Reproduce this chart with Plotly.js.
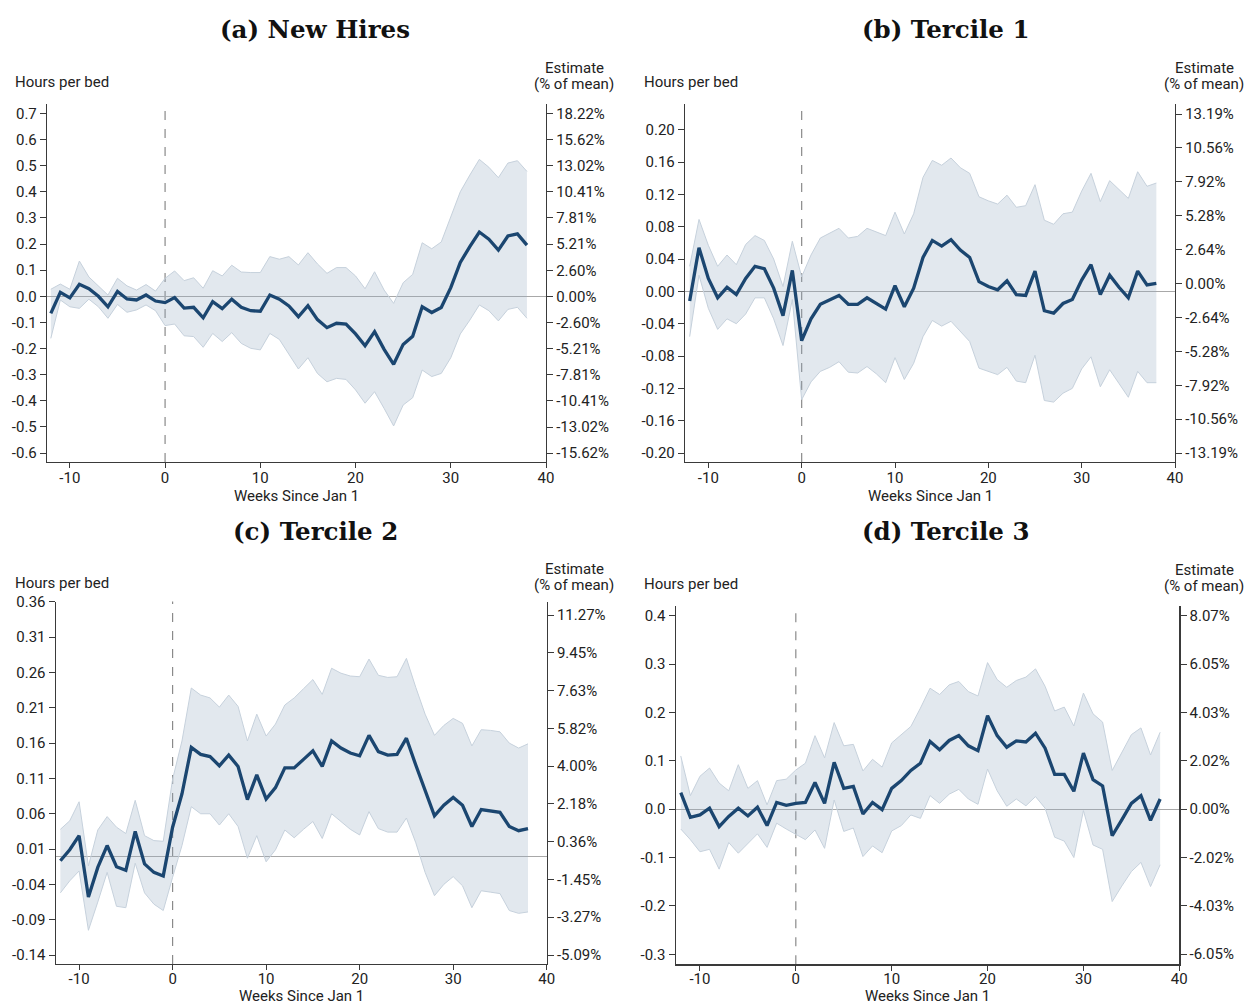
<!DOCTYPE html>
<html>
<head>
<meta charset="utf-8">
<script src="https://cdn.plot.ly/plotly-3.0.1.min.js"></script>
<style>html,body{margin:0;padding:0;background:#fff;}#chart{width:1247px;height:1005px;}</style>
</head>
<body>
<div id="chart"></div>
<script>
// ---------------- DATA ----------------
const weeks = [-12,-11,-10,-9,-8,-7,-6,-5,-4,-3,-2,-1,0,1,2,3,4,5,6,7,8,9,10,11,12,13,14,15,16,17,18,19,20,21,22,23,24,25,26,27,28,29,30,31,32,33,34,35,36,37,38];

const panelTitles = ["(a) New Hires", "(b) Tercile 1", "(c) Tercile 2", "(d) Tercile 3"];
const xTickVals = [-10, 0, 10, 20, 30, 40];
const xTickText = ["-10", "0", "10", "20", "30", "40"];

// (a) New Hires
const newHiresEst = [-0.065,0.015,-0.006,0.046,0.029,0.0,-0.04,0.019,-0.01,-0.014,0.005,-0.018,
  -0.024,-0.005,-0.045,-0.042,-0.082,-0.02,-0.047,-0.011,-0.042,-0.055,-0.057,0.005,-0.011,-0.037,-0.078,-0.036,
  -0.089,-0.12,-0.103,-0.106,-0.144,-0.189,-0.135,-0.203,-0.26,-0.184,-0.153,-0.04,-0.062,-0.043,0.033,0.13,0.19,0.246,0.219,0.177,0.231,0.239,0.196];
const newHiresHi = [0.027,0.047,0.027,0.135,0.074,0.041,0.005,0.069,0.04,0.024,0.045,0.02,
  0.069,0.097,0.06,0.071,0.031,0.098,0.078,0.119,0.093,0.091,0.091,0.152,0.142,0.152,0.12,0.167,
  0.124,0.088,0.11,0.11,0.078,0.029,0.094,0.024,-0.027,0.052,0.084,0.205,0.182,0.208,0.305,0.40,0.464,0.524,0.494,0.454,0.51,0.519,0.478];
const newHiresLo = [-0.161,-0.014,-0.04,-0.046,-0.011,-0.04,-0.084,-0.031,-0.061,-0.052,-0.033,-0.055,
  -0.112,-0.106,-0.151,-0.154,-0.195,-0.142,-0.173,-0.139,-0.18,-0.199,-0.205,-0.142,-0.165,-0.224,-0.278,-0.235,
  -0.295,-0.327,-0.314,-0.318,-0.358,-0.409,-0.365,-0.429,-0.496,-0.416,-0.388,-0.282,-0.307,-0.295,-0.235,-0.144,-0.091,-0.033,-0.055,-0.094,-0.05,-0.042,-0.084];
const newHiresLeftTicks = [-0.6,-0.5,-0.4,-0.3,-0.2,-0.1,0.0,0.1,0.2,0.3,0.4,0.5,0.6,0.7];
const newHiresLeftText = ["-0.6","-0.5","-0.4","-0.3","-0.2","-0.1","0.0","0.1","0.2","0.3","0.4","0.5","0.6","0.7"];
const newHiresRightTicks = [-15.62,-13.02,-10.41,-7.81,-5.21,-2.60,0.00,2.60,5.21,7.81,10.41,13.02,15.62,18.22];
const newHiresRightText = ["-15.62%","-13.02%","-10.41%","-7.81%","-5.21%","-2.60%","0.00%","2.60%","5.21%","7.81%","10.41%","13.02%","15.62%","18.22%"];

// (b) Tercile 1
const tercile1Est = [-0.012,0.054,0.016,-0.008,0.005,-0.004,0.016,0.031,0.028,0.004,-0.03,0.026,
  -0.061,-0.034,-0.016,-0.011,-0.005,-0.016,-0.016,-0.008,-0.015,-0.022,0.007,-0.019,0.004,0.042,
  0.063,0.056,0.064,0.051,0.042,0.012,0.006,0.002,0.013,-0.004,-0.005,0.025,-0.024,-0.027,-0.015,-0.010,0.014,0.033,-0.004,0.02,0.005,-0.008,0.025,0.008,0.01];
const tercile1Hi = [0.031,0.089,0.057,0.031,0.045,0.033,0.058,0.069,0.063,0.040,0.006,0.062,
  0.018,0.045,0.066,0.072,0.078,0.066,0.068,0.078,0.073,0.069,0.098,0.071,0.096,0.141,
  0.162,0.156,0.165,0.153,0.146,0.117,0.112,0.108,0.119,0.104,0.106,0.132,0.088,0.083,0.096,0.098,0.124,0.146,0.111,0.137,0.126,0.115,0.148,0.13,0.134];
const tercile1Lo = [-0.056,0.02,-0.021,-0.047,-0.034,-0.04,-0.028,-0.008,-0.008,-0.034,-0.067,-0.01,
  -0.134,-0.112,-0.099,-0.094,-0.087,-0.1,-0.101,-0.093,-0.102,-0.113,-0.082,-0.109,-0.089,-0.056,
  -0.036,-0.043,-0.037,-0.049,-0.062,-0.095,-0.099,-0.103,-0.094,-0.111,-0.113,-0.079,-0.135,-0.137,-0.126,-0.12,-0.096,-0.081,-0.118,-0.097,-0.114,-0.131,-0.099,-0.113,-0.113];
const tercile1LeftTicks = [-0.20,-0.16,-0.12,-0.08,-0.04,0.00,0.04,0.08,0.12,0.16,0.20];
const tercile1LeftText = ["-0.20","-0.16","-0.12","-0.08","-0.04","0.00","0.04","0.08","0.12","0.16","0.20"];
const tercile1RightTicks = [-13.19,-10.56,-7.92,-5.28,-2.64,0.00,2.64,5.28,7.92,10.56,13.19];
const tercile1RightText = ["-13.19%","-10.56%","-7.92%","-5.28%","-2.64%","0.00%","2.64%","5.28%","7.92%","10.56%","13.19%"];

// (c) Tercile 2
const tercile2Est = [-0.0065,0.009,0.029,-0.058,-0.016,0.015,-0.015,-0.020,0.035,-0.011,-0.023,-0.028,
  0.041,0.088,0.154,0.144,0.141,0.128,0.143,0.127,0.080,0.115,0.081,0.097,0.125,0.125,0.137,
  0.149,0.127,0.163,0.153,0.146,0.142,0.171,0.148,0.143,0.144,0.167,0.129,0.093,0.057,0.072,0.083,0.072,0.042,0.066,0.064,0.062,0.042,0.036,0.039];
const tercile2Hi = [0.038,0.050,0.077,-0.014,0.037,0.056,0.041,0.032,0.079,0.029,0.022,0.021,
  0.109,0.163,0.238,0.228,0.224,0.211,0.228,0.212,0.163,0.201,0.170,0.187,0.214,0.224,0.237,
  0.25,0.229,0.266,0.259,0.255,0.254,0.279,0.256,0.253,0.254,0.28,0.239,0.201,0.171,0.185,0.195,0.188,0.156,0.179,0.178,0.176,0.16,0.153,0.159];
const tercile2Lo = [-0.052,-0.035,-0.021,-0.105,-0.065,-0.023,-0.071,-0.073,-0.01,-0.052,-0.068,-0.077,
  -0.03,0.015,0.07,0.06,0.06,0.044,0.06,0.042,-0.003,0.029,-0.008,0.009,0.037,0.026,0.038,
  0.049,0.025,0.06,0.049,0.038,0.03,0.063,0.039,0.034,0.034,0.054,0.019,-0.023,-0.056,-0.040,-0.029,-0.042,-0.073,-0.049,-0.051,-0.053,-0.077,-0.081,-0.079];
const tercile2LeftTicks = [-0.14,-0.09,-0.04,0.01,0.06,0.11,0.16,0.21,0.26,0.31,0.36];
const tercile2LeftText = ["-0.14","-0.09","-0.04","0.01","0.06","0.11","0.16","0.21","0.26","0.31","0.36"];
const tercile2RightTicks = [-5.09,-3.27,-1.45,0.36,2.18,4.00,5.82,7.63,9.45,11.27];
const tercile2RightText = ["-5.09%","-3.27%","-1.45%","0.36%","2.18%","4.00%","5.82%","7.63%","9.45%","11.27%"];

// (d) Tercile 3
const tercile3Est = [0.034,-0.017,-0.012,0.002,-0.036,-0.015,0.002,-0.014,0.004,-0.034,0.014,0.008,
  0.012,0.014,0.055,0.012,0.097,0.043,0.047,-0.01,0.014,-0.001,0.043,0.059,0.08,0.095,
  0.14,0.123,0.142,0.152,0.131,0.121,0.193,0.152,0.128,0.141,0.139,0.157,0.126,0.072,0.072,0.037,0.116,0.061,0.048,-0.055,-0.022,0.012,0.028,-0.023,0.021];
const tercile3Hi = [0.11,0.028,0.068,0.085,0.054,0.038,0.092,0.043,0.059,0.009,0.059,0.062,
  0.081,0.095,0.152,0.106,0.179,0.131,0.134,0.079,0.103,0.087,0.137,0.154,0.171,0.209,
  0.25,0.237,0.257,0.264,0.243,0.234,0.303,0.268,0.252,0.266,0.273,0.29,0.254,0.203,0.211,0.172,0.24,0.197,0.18,0.08,0.117,0.154,0.168,0.112,0.159];
const tercile3Lo = [-0.041,-0.063,-0.088,-0.083,-0.124,-0.069,-0.091,-0.07,-0.051,-0.079,-0.029,-0.041,
  -0.052,-0.063,-0.043,-0.081,0.019,-0.046,-0.039,-0.098,-0.076,-0.09,-0.045,-0.034,-0.012,-0.019,
  0.028,0.012,0.031,0.041,0.021,0.010,0.083,0.038,0.006,0.021,0.007,0.026,0.002,-0.058,-0.066,-0.1,-0.003,-0.074,-0.083,-0.191,-0.159,-0.129,-0.11,-0.16,-0.115];
const tercile3LeftTicks = [-0.3,-0.2,-0.1,0.0,0.1,0.2,0.3,0.4];
const tercile3LeftText = ["-0.3","-0.2","-0.1","0.0","0.1","0.2","0.3","0.4"];
const tercile3RightTicks = [-6.05,-4.03,-2.02,0.00,2.02,4.03,6.05,8.07];
const tercile3RightText = ["-6.05%","-4.03%","-2.02%","0.00%","2.02%","4.03%","6.05%","8.07%"];

const leftTitle = "Hours per bed";
const rightTitleLine1 = "Estimate";
const rightTitleLine2 = "(% of mean)";
const xTitle = "Weeks Since Jan 1";

// ---------------- LAYOUT / STYLE ----------------
const W = 1247, H = 1005;
const px = v => v / W;
const py = v => 1 - v / H;

const FONT = "Roboto, 'Open Sans', sans-serif";
const LINE_COLOR = "#1b4670";
const BAND_FILL = "rgba(150,172,194,0.28)";
const BAND_EDGE = "#c6d1dc";
const AXIS_COLOR = "#3a3a3a";

// pixel boxes of each plot area: [left, right, top, bottom]
const panels = [
  {est:newHiresEst, hi:newHiresHi, lo:newHiresLo, box:[47,546,104,462], xr:[-12.4,40], yr:[-0.634,0.736], y2r:[-16.50,19.16],
   lt:newHiresLeftTicks, ltt:newHiresLeftText, rt:newHiresRightTicks, rtt:newHiresRightText, titleY:29, axTitleY:82, xTitleOff:34, stand:-3},
  {est:tercile1Est, hi:tercile1Hi, lo:tercile1Lo, box:[685,1175,104,462], xr:[-12.5,40], yr:[-0.2111,0.2318], y2r:[-13.89,13.97],
   lt:tercile1LeftTicks, ltt:tercile1LeftText, rt:tercile1RightTicks, rtt:tercile1RightText, titleY:29, axTitleY:82, xTitleOff:34, stand:-3},
  {est:tercile2Est, hi:tercile2Hi, lo:tercile2Lo, box:[55.7,546.7,601.5,964], xr:[-12.5,40], yr:[-0.1527,0.3605], y2r:[-5.52,11.92],
   lt:tercile2LeftTicks, ltt:tercile2LeftText, rt:tercile2RightTicks, rtt:tercile2RightText, titleY:531, axTitleY:583, xTitleOff:31.5, stand:-4},
  {est:tercile3Est, hi:tercile3Hi, lo:tercile3Lo, box:[675.7,1179.3,606,964.3], xr:[-12.53,40], yr:[-0.3207,0.420], y2r:[-6.47,8.47],
   lt:tercile3LeftTicks, ltt:tercile3LeftText, rt:tercile3RightTicks, rtt:tercile3RightText, titleY:531, axTitleY:584, xTitleOff:31.4, stand:-5}
];

const data = [];
const layout = {
  width: W, height: H,
  margin: {l:0, r:0, t:0, b:0},
  paper_bgcolor: "#fff", plot_bgcolor: "rgba(0,0,0,0)",
  showlegend: false,
  font: {family: FONT, size: 15, color: "#222"},
  annotations: [], shapes: []
};

panels.forEach((p, i) => {
  const n = i + 1;
  const xa = n === 1 ? "x" : "x" + n;
  const ya = n === 1 ? "y" : "y" + n;
  const ya2 = "y" + (n + 4);
  const [L, R, T, B] = p.box;

  data.push({x: weeks, y: p.hi, xaxis: xa, yaxis: ya, type: "scatter", mode: "lines",
             line: {color: BAND_EDGE, width: 1}, hoverinfo: "skip"});
  data.push({x: weeks, y: p.lo, xaxis: xa, yaxis: ya, type: "scatter", mode: "lines",
             line: {color: BAND_EDGE, width: 1}, fill: "tonexty", fillcolor: BAND_FILL, hoverinfo: "skip"});
  data.push({x: weeks, y: p.est, xaxis: xa, yaxis: ya, type: "scatter", mode: "lines",
             line: {color: LINE_COLOR, width: 3.3}});
  // invisible trace so that the right axis is drawn
  data.push({x: weeks, y: p.est, xaxis: xa, yaxis: ya2, type: "scatter", mode: "lines",
             line: {width: 0}, opacity: 0, hoverinfo: "skip"});

  const axisCommon = {showline: true, linecolor: AXIS_COLOR, linewidth: 1.2, ticks: "outside",
    ticklen: 6, tickwidth: 1, tickcolor: AXIS_COLOR, showgrid: false, zeroline: false,
    tickfont: {family: FONT, size: 15, color: "#222"}, fixedrange: true};

  layout[xa.replace("x", "xaxis")] = Object.assign({}, axisCommon, {
    domain: [px(L), px(R)], anchor: ya, range: p.xr, tickvals: xTickVals, ticktext: xTickText,
    ticklen: 5, ticklabelstandoff: p.stand
  });
  layout[ya.replace("y", "yaxis")] = Object.assign({}, axisCommon, {
    domain: [py(B), py(T)], anchor: xa, range: p.yr, tickvals: p.lt, ticktext: p.ltt,
    zeroline: true, zerolinecolor: "#a8a8a8", zerolinewidth: 1
  });
  layout["yaxis" + (n + 4)] = Object.assign({}, axisCommon, {
    overlaying: ya, side: "right", anchor: xa, range: p.y2r, tickvals: p.rt, ticktext: p.rtt
  });

  // vertical dashed line at week 0
  layout.shapes.push({type: "line", xref: xa, yref: ya + " domain", x0: 0, x1: 0, y0: 0, y1: 1,
    line: {color: "#8a8a8a", width: 1.2, dash: "dash"}, layer: "below"});

  const cx = (L + R) / 2;
  // panel title
  layout.annotations.push({xref: "paper", yref: "paper", x: px(i % 2 === 0 ? 315 : 945), y: py(p.titleY),
    text: "<b>" + panelTitles[i] + "</b>", showarrow: false, xanchor: "center", yanchor: "middle",
    font: {family: "'DejaVu Serif', 'Liberation Serif', serif", size: 24.5, color: "#111"}});
  // left axis title
  const colLeft = i % 2 === 0 ? 13 : 642;
  layout.annotations.push({xref: "paper", yref: "paper", x: px(colLeft), y: py(p.axTitleY),
    text: leftTitle, showarrow: false, xanchor: "left", yanchor: "middle",
    font: {family: FONT, size: 15, color: "#222"}});
  // right axis title (two lines)
  const rightCx = i % 2 === 0 ? 574 : 1204;
  layout.annotations.push({xref: "paper", yref: "paper", x: px(rightCx), y: py(p.axTitleY - 14),
    text: rightTitleLine1, showarrow: false, xanchor: "center", yanchor: "middle",
    font: {family: FONT, size: 15, color: "#222"}});
  layout.annotations.push({xref: "paper", yref: "paper", x: px(rightCx), y: py(p.axTitleY + 2),
    text: rightTitleLine2, showarrow: false, xanchor: "center", yanchor: "middle",
    font: {family: FONT, size: 15, color: "#222"}});
  // x axis title
  layout.annotations.push({xref: "paper", yref: "paper", x: px(cx), y: py(B + p.xTitleOff),
    text: xTitle, showarrow: false, xanchor: "center", yanchor: "middle",
    font: {family: FONT, size: 15, color: "#222"}});
});

Plotly.newPlot("chart", data, layout, {displayModeBar: false, staticPlot: true});
</script>
</body>
</html>
